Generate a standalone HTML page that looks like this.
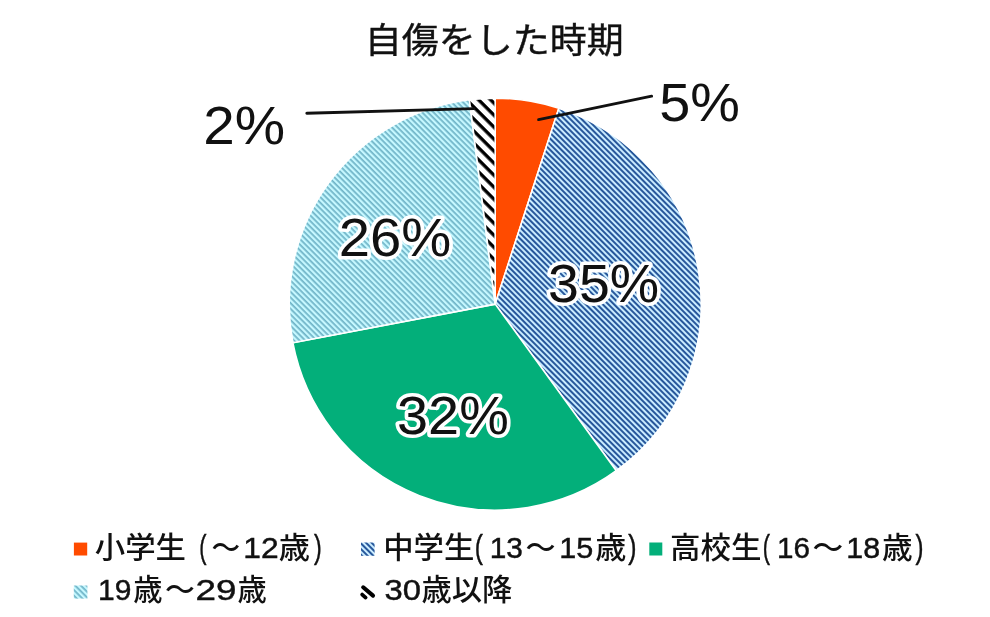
<!DOCTYPE html>
<html lang="ja"><head><meta charset="utf-8"><title>自傷をした時期</title>
<style>
html,body{margin:0;padding:0;background:#fff;}
body{width:990px;height:617px;overflow:hidden;}
svg{display:block;}
text{font-family:"Liberation Sans","Noto Sans CJK JP",sans-serif;fill:#111;}
.cj{font-weight:500;}
.tt{stroke:#111;stroke-width:0.4px;}
.lt{stroke:#111;stroke-width:0.45px;}
.ol{stroke:#fff;stroke-width:7px;stroke-linejoin:round;paint-order:stroke fill;}
</style></head><body>
<svg width="990" height="617" viewBox="0 0 990 617">
<defs>
<pattern id="pb" patternUnits="userSpaceOnUse" width="8" height="4" patternTransform="rotate(45)">
<rect width="8" height="4" fill="#caecff"/><rect width="8" height="2" fill="#27579b"/></pattern>
<pattern id="pl" patternUnits="userSpaceOnUse" width="8" height="4" patternTransform="rotate(45)">
<rect width="8" height="4" fill="#c6f8ff"/><rect width="8" height="1.75" fill="#70b4c8"/></pattern>
<pattern id="pk" patternUnits="userSpaceOnUse" width="8" height="8.5" patternTransform="rotate(45) translate(0,2.4)">
<rect width="8" height="8.5" fill="#fff"/><rect width="8" height="3.4" fill="#000"/></pattern>

</defs>
<rect width="990" height="617" fill="#fff"/>
<path d="M495.20,304.10 L495.20,98.10 A206.0,206.0 0 0 1 558.86,108.18 Z" fill="#ff4b00" stroke="#fff" stroke-width="1.6" stroke-linejoin="round"/>
<path d="M495.20,304.10 L558.86,108.18 A206.0,206.0 0 0 1 616.28,470.76 Z" fill="url(#pb)" stroke="#fff" stroke-width="1.6" stroke-linejoin="round"/>
<path d="M495.20,304.10 L616.28,470.76 A206.0,206.0 0 0 1 292.85,342.70 Z" fill="#03af7a" stroke="#fff" stroke-width="1.6" stroke-linejoin="round"/>
<path d="M495.20,304.10 L292.85,342.70 A206.0,206.0 0 0 1 469.38,99.72 Z" fill="url(#pl)" stroke="#fff" stroke-width="1.6" stroke-linejoin="round"/>
<path d="M495.20,304.10 L469.38,99.72 A206.0,206.0 0 0 1 495.20,98.10 Z" fill="url(#pk)" stroke="#fff" stroke-width="1.6" stroke-linejoin="round"/>
<line x1="538.6" y1="119.6" x2="651.6" y2="96.2" stroke="#111" stroke-width="2.9" stroke-linecap="round"/>
<line x1="306.8" y1="113.2" x2="474.0" y2="108.6" stroke="#111" stroke-width="2.9" stroke-linecap="round"/>
<rect x="73.9" y="542.6" width="13.3" height="12.9" fill="#ff4b00"/>
<rect x="361" y="542.5" width="13.6" height="13.3" fill="url(#pb)"/>
<rect x="649.3" y="542.5" width="13" height="13" fill="#03af7a"/>
<rect x="73.8" y="585.5" width="13.6" height="13.1" fill="url(#pl)"/>
<line x1="363.2" y1="587.3" x2="373.0" y2="595.6" stroke="#000" stroke-width="4.1" stroke-linecap="round"/>
<line x1="362.2" y1="594.6" x2="365.6" y2="597.6" stroke="#000" stroke-width="3.8" stroke-linecap="round"/>
<text class="tt" x="364.89" y="53.30" font-size="35.2" textLength="258.79" lengthAdjust="spacingAndGlyphs">自傷をした時期</text>
<text x="659.27" y="121.20" font-size="53.8" textLength="80.75" lengthAdjust="spacingAndGlyphs">5%</text>
<text x="203.27" y="143.80" font-size="53.8" textLength="81.88" lengthAdjust="spacingAndGlyphs">2%</text>
<text class="ol" x="548.02" y="302.40" font-size="53.8" textLength="111.21" lengthAdjust="spacingAndGlyphs">35%</text>
<text class="ol" x="397.00" y="433.70" font-size="53.8" textLength="111.84" lengthAdjust="spacingAndGlyphs">32%</text>
<text class="ol" x="338.69" y="256.10" font-size="53.8" textLength="112.57" lengthAdjust="spacingAndGlyphs">26%</text>
<text><tspan class="cj" x="94.71" y="557.60" font-size="29.5" textLength="91.31" lengthAdjust="spacingAndGlyphs">小学生</tspan> <tspan class="lt" x="199.24" y="557.80" font-size="33.2" textLength="7.23" lengthAdjust="spacingAndGlyphs">(</tspan><tspan class="cj" x="211.58" y="557.60" font-size="29.5" textLength="28.63" lengthAdjust="spacingAndGlyphs">～</tspan><tspan class="lt" x="243.22" y="558.00" font-size="30.2" textLength="35.35" lengthAdjust="spacingAndGlyphs">12</tspan><tspan class="cj" x="278.79" y="557.60" font-size="29.5" textLength="31.21" lengthAdjust="spacingAndGlyphs">歳</tspan><tspan class="lt" x="313.93" y="557.80" font-size="33.2" textLength="7.74" lengthAdjust="spacingAndGlyphs">)</tspan></text>
<text><tspan class="cj" x="383.21" y="557.60" font-size="29.5" textLength="91.21" lengthAdjust="spacingAndGlyphs">中学生</tspan><tspan class="lt" x="474.68" y="557.80" font-size="33.2" textLength="8.12" lengthAdjust="spacingAndGlyphs">(</tspan><tspan class="lt" x="489.66" y="558.00" font-size="30.2" textLength="33.17" lengthAdjust="spacingAndGlyphs">13</tspan><tspan class="cj" x="525.52" y="557.60" font-size="29.5" textLength="30.05" lengthAdjust="spacingAndGlyphs">～</tspan><tspan class="lt" x="559.21" y="558.00" font-size="30.2" textLength="33.99" lengthAdjust="spacingAndGlyphs">15</tspan><tspan class="cj" x="595.19" y="557.60" font-size="29.5" textLength="31.10" lengthAdjust="spacingAndGlyphs">歳</tspan><tspan class="lt" x="628.31" y="557.80" font-size="33.2" textLength="8.25" lengthAdjust="spacingAndGlyphs">)</tspan></text>
<text><tspan class="cj" x="670.12" y="557.60" font-size="29.5" textLength="91.51" lengthAdjust="spacingAndGlyphs">高校生</tspan><tspan class="lt" x="762.64" y="557.80" font-size="33.2" textLength="7.23" lengthAdjust="spacingAndGlyphs">(</tspan><tspan class="lt" x="777.08" y="558.00" font-size="30.2" textLength="32.95" lengthAdjust="spacingAndGlyphs">16</tspan><tspan class="cj" x="812.59" y="557.60" font-size="29.5" textLength="30.71" lengthAdjust="spacingAndGlyphs">～</tspan><tspan class="lt" x="846.32" y="558.00" font-size="30.2" textLength="33.85" lengthAdjust="spacingAndGlyphs">18</tspan><tspan class="cj" x="881.90" y="557.60" font-size="29.5" textLength="30.67" lengthAdjust="spacingAndGlyphs">歳</tspan><tspan class="lt" x="915.42" y="557.80" font-size="33.2" textLength="7.99" lengthAdjust="spacingAndGlyphs">)</tspan></text>
<text><tspan class="lt" x="98.05" y="600.30" font-size="30.2" textLength="33.37" lengthAdjust="spacingAndGlyphs">19</tspan><tspan class="cj" x="133.25" y="599.90" font-size="29.5" textLength="29.28" lengthAdjust="spacingAndGlyphs">歳</tspan><tspan class="cj" x="164.93" y="599.90" font-size="29.5" textLength="29.84" lengthAdjust="spacingAndGlyphs">～</tspan><tspan class="lt" x="195.46" y="600.30" font-size="30.2" textLength="40.99" lengthAdjust="spacingAndGlyphs">29</tspan><tspan class="cj" x="237.55" y="599.90" font-size="29.5" textLength="29.28" lengthAdjust="spacingAndGlyphs">歳</tspan></text>
<text><tspan class="lt" x="384.57" y="600.30" font-size="30.2" textLength="36.43" lengthAdjust="spacingAndGlyphs">30</tspan><tspan class="cj" x="421.52" y="599.90" font-size="29.5" textLength="90.89" lengthAdjust="spacingAndGlyphs">歳以降</tspan></text>
</svg>
</body></html>
